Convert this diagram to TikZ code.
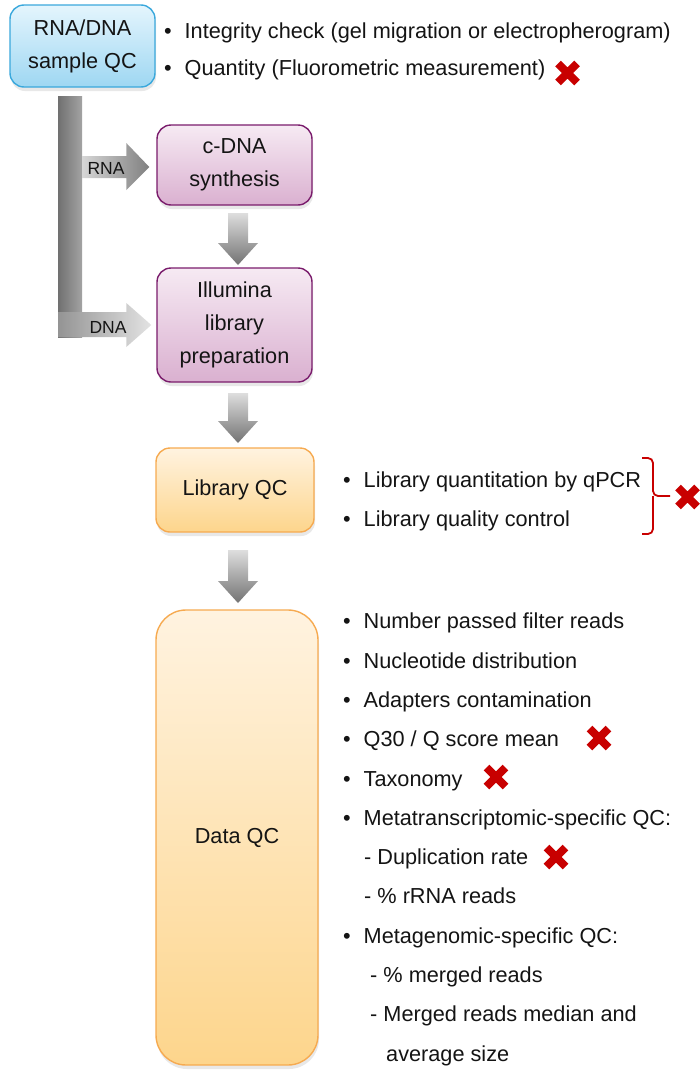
\documentclass[tikz,border=0pt]{standalone}
\usepackage{fontspec}
\setmainfont{Liberation Sans}
\usetikzlibrary{calc,shadows}
\definecolor{bluetop}{RGB}{228,245,253}
\definecolor{bluebot}{RGB}{158,215,242}
\definecolor{blueline}{RGB}{58,168,220}
\definecolor{purtop}{RGB}{246,234,243}
\definecolor{purbot}{RGB}{218,176,208}
\definecolor{purline}{RGB}{122,28,108}
\definecolor{ortop}{RGB}{255,243,224}
\definecolor{orbot}{RGB}{253,213,140}
\definecolor{orline}{RGB}{246,170,80}
\definecolor{xred}{RGB}{200,0,0}
\definecolor{txt}{RGB}{20,20,20}
\newcommand{\bul}{\makebox[20.5pt][l]{\textbullet}}
\newcommand{\redcross}[1]{\draw[crossline] ($(#1)+(-9.5,-9.5)$) -- ($(#1)+(9.5,9.5)$) ($(#1)+(-9.5,9.5)$) -- ($(#1)+(9.5,-9.5)$);}
\newcommand{\vgrayarrow}[2]{\shade[varrowshade] ($(#1)+(-10,0)$) -- ($(#2)+(-10,-22)$) -- ($(#2)+(-20,-22)$) -- (#2) -- ($(#2)+(20,-22)$) -- ($(#2)+(10,-22)$) -- ($(#1)+(10,0)$) -- cycle;}
\begin{document}
\begin{tikzpicture}[x=1pt,y=-1pt,
  every node/.style={text=txt, font=\fontsize{21.7}{33}\selectfont},
  boxbase/.style={rounded corners=14pt, line width=1.4pt, align=center, inner sep=0pt,
    drop shadow={shadow xshift=1pt, shadow yshift=-4pt, opacity=0.18}},
  bluebox/.style={boxbase, draw=blueline, top color=bluetop, bottom color=bluebot},
  purbox/.style={boxbase, draw=purline, top color=purtop, bottom color=purbot},
  orbox/.style={boxbase, draw=orline, top color=ortop, bottom color=orbot},
  item/.style={anchor=west, inner sep=0pt, text height=15.6pt, text depth=0pt},
  small/.style={font=\fontsize{17.5}{20}\selectfont, inner sep=0pt},
  crossline/.style={draw=xred, line width=8pt, line cap=butt},
  bracketline/.style={draw=xred, line width=1.8pt, rounded corners=5pt},
  varrowshade/.style={top color=black!13, bottom color=black!55},
]
\useasboundingbox (0,0) rectangle (700,1079);

% ---- gray L-shaped bar and horizontal arrows
\coordinate (barTop) at (70,96);
\shade[left color=black!56, right color=black!36] (58,96) rectangle (82,337);

% ---- boxes
\node[bluebox, minimum width=145pt, minimum height=82pt] (src) at (82.5,46) {RNA/DNA\\sample QC};
\node[purbox, minimum width=155pt, minimum height=80pt] (cdna) at (234.5,165) {c-DNA\\synthesis};
\node[purbox, minimum width=155pt, minimum height=114pt] (illu) at (234.5,325) {Illumina\\library\\preparation};
\node[orbox, minimum width=158pt, minimum height=84pt] (libqc) at (235,490) {Library QC};
\node[orbox, rounded corners=30pt, minimum width=162pt, minimum height=455pt] (dataqc) at (237,837.5) {Data QC};

% ---- RNA / DNA arrows
\coordinate (rnaTip) at ($(cdna.west)+(-7,2)$);
\coordinate (dnaTip) at ($(illu.west)+(-5,0)$);
\shade[left color=black!16, right color=black!50]
  (82,156) -- ($(rnaTip)+(-23,-11)$) -- ($(rnaTip)+(-23,-24)$) -- (rnaTip)
  -- ($(rnaTip)+(-23,23)$) -- ($(rnaTip)+(-23,11)$) -- (82,178) -- cycle;
\shade[left color=black!42, right color=black!11]
  (82,312) -- ($(dnaTip)+(-25,-13)$) -- ($(dnaTip)+(-25,-22)$) -- (dnaTip)
  -- ($(dnaTip)+(-25,22)$) -- ($(dnaTip)+(-25,12)$) -- (58,337) -- (58,312) -- cycle;
\node[small] (rnalab) at (106,168) {RNA};
\node[small] (dnalab) at (108,327) {DNA};

% ---- vertical arrows
\coordinate (a1s) at (238,213); \coordinate (a1e) at (238,265);
\coordinate (a2s) at (238,393); \coordinate (a2e) at (238,443);
\coordinate (a3s) at (238,550); \coordinate (a3e) at (238,603);
\vgrayarrow{a1s}{a1e}
\vgrayarrow{a2s}{a2e}
\vgrayarrow{a3s}{a3e}

% ---- top bullets
\node[item] (t1) at (164,31) {\bul Integrity check (gel migration or electropherogram)};
\node[item] (t2) at (164,68) {\bul Quantity (Fluorometric measurement)};
\coordinate (x1) at (567.5,73);
\redcross{x1}

% ---- library bullets
\node[item] (l1) at (343,480) {\bul Library quantitation by qPCR};
\node[item] (l2) at (343,519) {\bul Library quality control};
\draw[bracketline] (642,458) -- (653,458) -- (653,496) -- (670,496);
\draw[bracketline] (642,534) -- (653,534) -- (653,496);
\coordinate (x2) at (687.5,497);
\redcross{x2}

% ---- data bullets
\node[item] (d1) at (343,621) {\bul Number passed filter reads};
\node[item] (d2) at (343,660.3) {\bul Nucleotide distribution};
\node[item] (d3) at (343,699.6) {\bul Adapters contamination};
\node[item] (d4) at (343,738.9) {\bul Q30 / Q score mean};
\node[item] (d5) at (343,778.2) {\bul Taxonomy};
\node[item] (d6) at (343,817.5) {\bul Metatranscriptomic-specific QC:};
\node[item] (d7) at (364,856.8) {- Duplication rate};
\node[item] (d8) at (364,896.1) {- \% rRNA reads};
\node[item] (d9) at (343,935.4) {\bul Metagenomic-specific QC:};
\node[item] (d10) at (370,974.7) {- \% merged reads};
\node[item] (d11) at (370,1014) {- Merged reads median and};
\node[item] (d12) at (386,1053.3) {average size};
\coordinate (x3) at (599,738);
\coordinate (x4) at (496,777);
\coordinate (x5) at (556,857);
\redcross{x3}
\redcross{x4}
\redcross{x5}
\end{tikzpicture}
\end{document}
